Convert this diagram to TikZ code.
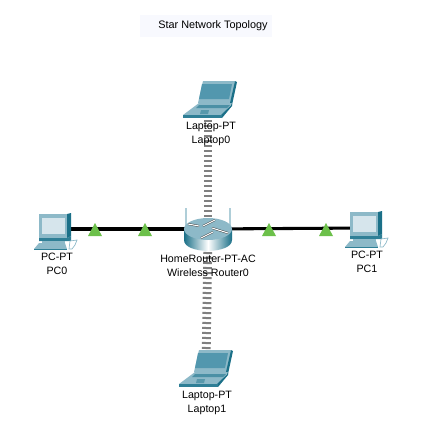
\documentclass[tikz,border=0pt]{standalone}
\usepackage{fontspec}
\setmainfont{Liberation Sans}
\definecolor{tealmid}{HTML}{8DB9C8}
\definecolor{tealdark}{HTML}{2F7F96}
\definecolor{tealdeep}{HTML}{1B7088}
\definecolor{screenlaptop}{HTML}{5297AE}
\definecolor{screenpc}{HTML}{D6E5EC}
\definecolor{linkgreen}{HTML}{6CC04A}
\definecolor{wirelessgray}{HTML}{808080}
\definecolor{titlepanel}{HTML}{F8F9FE}
\tikzset{
  x=.75pt,y=-.75pt,
  anchorbox/.style={inner sep=0pt,outer sep=0pt,minimum width=30pt,minimum height=20pt},
  label text/.style={font=\fontsize{8pt}{10.5pt}\selectfont,align=center,text=black,inner sep=0pt},
  wired/.style={line width=2.3pt,black},
  wirelessb/.style={line width=6.6pt,wirelessgray,dash pattern=on 1.5pt off 2.25pt},
  lightmark/.style={fill=linkgreen,draw=none},
}
\newcommand{\drawLaptop}[2]{%
 \begin{scope}[shift={(#1,#2)}]
  \fill[tealmid] (15,22)--(20,0)--(52,0)--(48,22)--cycle;
  \fill[tealdeep] (52,0)--(54,1)--(49,24)--(47,22)--cycle;
  \fill[screenlaptop] (19,3)--(49,3)--(46,18)--(16,18)--cycle;
  \fill[tealmid] (16,22)--(49,22)--(39,34)--(0,34)--cycle;
  \fill[tealdark!70!tealmid] (16,24)--(47,24)--(44,27)--(13,27)--cycle;
  \fill[tealdeep] (49,23)--(49,25)--(39,37)--(38,34)--cycle;
  \fill[tealdark] (0,34)--(39,34)--(39,37)--(0,37)--cycle;
  \fill[tealdark!80] (18,29)--(26,29)--(25,33)--(17,33)--cycle;
 \end{scope}}
\newcommand{\drawPC}[2]{%
 \begin{scope}[shift={(#1,#2)}]
  \fill[tealdeep] (33,1)--(37,0)--(37,23)--(33,25)--cycle;
  \fill[tealmid] (5,1)--(33,1)--(33,25)--(5,25)--cycle;
  \fill[screenpc] (8,5)--(31,5)--(31,21)--(8,21)--cycle;
  \fill[tealdark] (5,25)--(33,25)--(37,23)--(37,28)--(5,28)--cycle;
  \fill[tealmid] (8,28)--(31,28)--(31,30)--(8,30)--cycle;
  \fill[tealmid] (5,30)--(31,30)--(33,36)--(0,36)--cycle;
  \fill[tealdark] (0,36)--(33,36)--(33,37)--(0,37)--cycle;
  \draw[tealmid,line width=.5pt,fill=white] (36,28)--(43,27)--(41,32)--(38,36)--(35,36)--cycle;
 \end{scope}}
\begin{document}
\begin{tikzpicture}
\useasboundingbox (0,0) rectangle (432,429);
\fill[white] (0,0) rectangle (432,429);
\fill[titlepanel] (140,15) rectangle (272,37);
\node[label text,font=\fontsize{8.15pt}{11pt}\selectfont] (title) at (213,26) {Star Network Topology};
% anchors
\node[anchorbox] (laptopA) at (208,100) {};
\node[anchorbox] (laptopB) at (206,369) {};
\node[anchorbox] (pcA) at (55,229) {};
\node[anchorbox] (pcB) at (366,228) {};
\node[anchorbox] (router) at (208,229) {};
% links
\draw[wired] (pcA.center) -- (router.center);
\draw[wired] (router.center) -- (pcB.center);
\draw[wirelessb] (laptopA.center) -- (router.center);
\draw[wirelessb] (laptopB.center) -- (router.center);
% link lights
\foreach \lx in {95,145,269,326}{\fill[lightmark] (\lx-7,236)--(\lx,223)--(\lx+7,236)--cycle;}
% devices
\drawLaptop{183}{81}
\drawLaptop{179}{350}
\drawPC{34}{213}
\drawPC{345}{211}
% router
\draw[tealmid!70,line width=1.3pt] (186,208)--(186,228);
\draw[tealmid!70,line width=1.3pt] (230,208)--(230,228);
\shade[left color=tealdeep,right color=tealdeep,middle color=white]
  (184,229) -- (184,240) .. controls (184,254.5) and (232,254.5) .. (232,240) -- (232,229) -- cycle;
\fill[tealmid] (208,229) ellipse[x radius=24,y radius=11];
\foreach \xa/\ya/\xb/\yb in {188/224/199/226, 228/233/212/228, 203/226/215/220, 213/232/201/238}{
  \draw[black!75,line width=1.5pt] (\xa,\ya)--(\xb,\yb);
  \draw[white,line width=.8pt] (\xa,\ya)--(\xb,\yb);}
% labels
\node[label text] (laptopAlabel) at (211,134) {Laptop-PT\\Laptop0};
\node[label text] (routerlabel) at (208,266) {HomeRouter-PT-AC\\Wireless Router0};
\node[label text] (pcAlabel) at (57,264) {PC-PT\\PC0};
\node[label text] (pcBlabel) at (367,262) {PC-PT\\PC1};
\node[label text] (laptopBlabel) at (207,403) {Laptop-PT\\Laptop1};
\end{tikzpicture}
\end{document}
